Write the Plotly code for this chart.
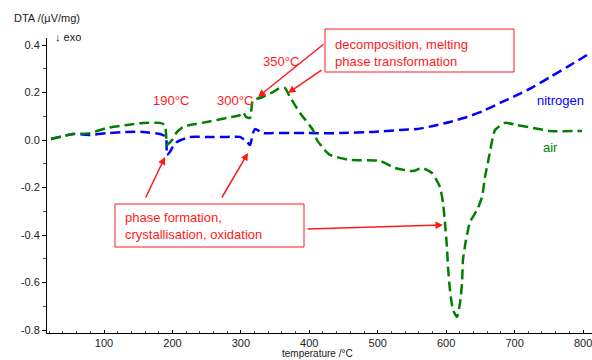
import plotly.graph_objects as go

# ---- data ----
n2_temp = [22.5, 54.7, 79.5, 104.4, 133.6, 157, 181.8, 190.6, 192, 196.4, 199.4, 206.7, 225.7,
           250.5, 279.7, 298.7, 309, 313.4, 317.7, 320.7, 332.4, 347, 371.8, 396.7, 444.9,
           493.1, 532.6, 557.4, 580.8, 605.6, 630.5, 653.9, 678.7, 703.5, 726.9, 751.8,
           776.6, 805.8]
n2_dta = [0.004, 0.025, 0.021, 0.029, 0.034, 0.034, 0.025, 0.013, -0.063, -0.05, -0.034, -0.008,
          0.013, 0.013, 0.013, 0.013, -0.008, -0.021, 0.029, 0.046, 0.029, 0.029, 0.029, 0.029,
          0.029, 0.034, 0.042, 0.046, 0.059, 0.076, 0.097, 0.122, 0.156, 0.189, 0.223, 0.265,
          0.307, 0.358]

air_temp = [22.5, 54.7, 79.5, 104.4, 133.6, 157, 181.8, 189.1, 190.6, 192, 199.4, 206.7, 215.4,
            225.7, 250.5, 279.7, 298.7, 303.1, 307.5, 313.4, 317.7, 328, 347, 357.2, 364.5,
            371.8, 386.4, 405.4, 411.3, 420, 430.3, 459.5, 503.3, 525.3, 551.6, 564.7, 579.3,
            591, 595.4, 598.3, 601.2, 602.7, 605.6, 610, 615.9, 620.3, 623.2, 624.6, 629,
            634.9, 645.1, 652.4, 656.8, 662.6, 671.4, 686, 703.5, 726.9, 751.8, 798.5]
air_dta = [0.004, 0.025, 0.029, 0.051, 0.063, 0.072, 0.072, 0.063, 0.029, -0.021, 0.0, 0.034,
           0.055, 0.063, 0.076, 0.093, 0.105, 0.118, 0.097, 0.093, 0.168, 0.177, 0.202, 0.219,
           0.219, 0.181, 0.114, 0.042, 0.0, -0.034, -0.063, -0.084, -0.088, -0.118, -0.131,
           -0.118, -0.139, -0.198, -0.265, -0.349, -0.451, -0.535, -0.632, -0.716, -0.745,
           -0.686, -0.602, -0.505, -0.421, -0.345, -0.295, -0.24, -0.156, -0.072, 0.042, 0.072,
           0.063, 0.051, 0.038, 0.038]

x_ticks = [100, 200, 300, 400, 500, 600, 700, 800]
y_ticks = [0.4, 0.2, 0.0, -0.2, -0.4, -0.6, -0.8]
y_tick_text = ["0.4", "0.2", "0.0", "-0.2", "-0.4", "-0.6", "-0.8"]

FONT = "Arial, Liberation Sans, sans-serif"
RED = "#ff1a1a"

# plot area in pixels
L, R, T, B = 47, 592, 38, 333


def PX(px):
    return (px - L) / (R - L)


def PY(py):
    return (B - py) / (B - T)


fig = go.Figure()
fig.add_trace(go.Scatter(x=n2_temp, y=n2_dta, mode="lines", name="nitrogen",
                         line=dict(color="#0000ff", width=2.5, dash="10px,5px",
                                   shape="spline", smoothing=0.5)))
fig.add_trace(go.Scatter(x=air_temp, y=air_dta, mode="lines", name="air",
                         line=dict(color="#008000", width=2.5, dash="10px,5px",
                                   shape="spline", smoothing=0.5)))

annotations = []


def text(px, py, s, color, size=13, anchor="center"):
    annotations.append(dict(x=PX(px), y=PY(py), xref="paper", yref="paper", text=s,
                            showarrow=False, xanchor=anchor, yanchor="middle", align="left",
                            font=dict(family=FONT, size=size, color=color)))


def arrow(hx, hy, tx, ty):
    annotations.append(dict(x=PX(hx), y=PY(hy), xref="paper", yref="paper", text="",
                            showarrow=True, ax=tx - hx, ay=ty - hy, arrowhead=2,
                            arrowsize=1, arrowwidth=1.5, arrowcolor=RED))


text(171, 100, "190°C", RED)
text(235, 100, "300°C", RED)
text(281, 61, "350°C", RED)
text(333, 53, "decomposition, melting<br>phase transformation", RED, anchor="left")
text(123, 226, "phase formation,<br>crystallisation, oxidation", RED, anchor="left")
text(560, 100, "nitrogen", "#0000ff")
text(550, 147, "air", "#008000")
text(12, 18, "DTA /(µV/mg)", "#222222", size=11, anchor="left")
text(53, 37, "↓ exo", "#222222", size=11, anchor="left")
text(317, 353, "temperature /°C", "#222222", size=10)
# 800 tick label sits at the right edge, as in the reference
annotations.append(dict(x=PX(583), y=PY(343), xref="paper", yref="paper", text="800",
                        showarrow=False, xanchor="center", yanchor="middle",
                        font=dict(family=FONT, size=11, color="#222222")))

arrow(258, 97, 325, 43)
arrow(288, 93, 323, 69)
arrow(443, 225, 306, 229)
arrow(165, 157, 145, 199)
arrow(248, 153, 221, 199)

shapes = [
    dict(type="rect", xref="paper", yref="paper", x0=PX(325), x1=PX(514), y0=PY(72), y1=PY(29),
         line=dict(color=RED, width=1)),
    dict(type="rect", xref="paper", yref="paper", x0=PX(115), x1=PX(304), y0=PY(247), y1=PY(204),
         line=dict(color=RED, width=1)),
]

x_lo = 100 + (L - 104) / 0.6843
x_hi = 100 + (R - 104) / 0.6843
y_lo = (140 - B) / 237.5
y_hi = (140 - T) / 237.5

fig.update_layout(
    width=592, height=360,
    margin=dict(l=L, r=592 - R, t=T, b=360 - B, pad=0),
    paper_bgcolor="white", plot_bgcolor="white",
    showlegend=False,
    font=dict(family=FONT, size=11, color="#222222"),
    annotations=annotations,
    shapes=shapes,
    xaxis=dict(range=[x_lo, x_hi], tickvals=x_ticks, showgrid=False, zeroline=False,
               showline=True, linecolor="black", linewidth=1, ticks="inside", ticklen=3,
               tickcolor="black", minor=dict(dtick=20, tick0=0, ticks="inside", ticklen=2,
                                             tickcolor="#444"),
               tickfont=dict(size=11, color="#222222"), automargin=False),
    yaxis=dict(range=[y_lo, y_hi], tickvals=y_ticks, ticktext=y_tick_text, showgrid=False,
               zeroline=False, showline=True, linecolor="black", linewidth=1, ticks="outside",
               ticklen=4, tickcolor="black",
               minor=dict(dtick=0.1, tick0=0, ticks="outside", ticklen=3, tickcolor="#444"),
               tickfont=dict(size=11, color="#222222"), automargin=False),
)

fig.write_html("out.html")
